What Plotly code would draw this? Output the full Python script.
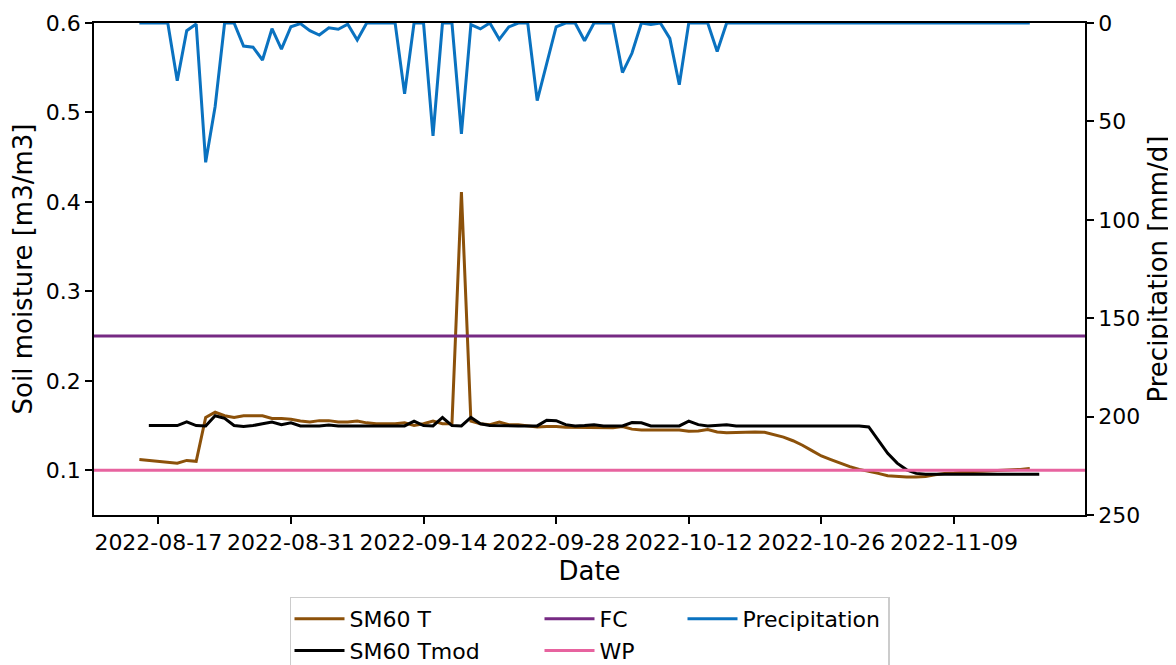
import plotly.graph_objects as go
import pandas as pd

# ---------------- data ----------------
start_t = "2022-08-15"      # first day of SM60 T and Precipitation
start_tmod = "2022-08-16"   # first day of SM60 Tmod

sm60_t = [0.112, 0.111, 0.110, 0.109, 0.108, 0.111, 0.110, 0.159, 0.165, 0.161,
          0.159, 0.161, 0.161, 0.161, 0.158, 0.158, 0.157, 0.155, 0.154, 0.1555,
          0.1555, 0.154, 0.154, 0.155, 0.153, 0.152, 0.152, 0.152, 0.153, 0.150,
          0.152, 0.155, 0.152, 0.152, 0.411, 0.155, 0.152, 0.151, 0.154, 0.151,
          0.151, 0.150, 0.1484, 0.149, 0.149, 0.148, 0.148, 0.1475, 0.1475, 0.1475,
          0.1475, 0.149, 0.146, 0.145, 0.145, 0.145, 0.1448, 0.145, 0.1435, 0.144,
          0.1455, 0.1428, 0.142, 0.1425, 0.1428, 0.1428, 0.1425, 0.140, 0.137, 0.133,
          0.128, 0.122, 0.116, 0.112, 0.108, 0.104, 0.101, 0.099, 0.0965, 0.094,
          0.093, 0.0925, 0.0925, 0.093, 0.095, 0.0965, 0.097, 0.098, 0.0985, 0.099,
          0.0995, 0.100, 0.100, 0.101, 0.102]

sm60_tmod = [0.150, 0.150, 0.150, 0.150, 0.154, 0.150, 0.1495, 0.161, 0.158, 0.150,
             0.149, 0.150, 0.152, 0.154, 0.151, 0.153, 0.1496, 0.1496, 0.1496, 0.1505,
             0.1496, 0.1496, 0.1496, 0.1496, 0.1496, 0.1496, 0.1496, 0.1496, 0.155, 0.150,
             0.1496, 0.159, 0.150, 0.1496, 0.159, 0.152, 0.150, 0.1496, 0.1496, 0.1496,
             0.1496, 0.1496, 0.156, 0.1555, 0.151, 0.1496, 0.150, 0.151, 0.1496, 0.1496,
             0.1496, 0.1533, 0.153, 0.1496, 0.1496, 0.1496, 0.1496, 0.155, 0.151, 0.1496,
             0.150, 0.151, 0.1496, 0.1496, 0.1496, 0.1496, 0.1496, 0.1496, 0.1496, 0.1496,
             0.1496, 0.1496, 0.1496, 0.1496, 0.1496, 0.1496, 0.1484, 0.1336, 0.119, 0.108,
             0.1005, 0.0965, 0.0955, 0.0955, 0.0955, 0.0955, 0.0955, 0.0955, 0.0955, 0.0955,
             0.0955, 0.0955, 0.0955, 0.0955, 0.0955]

precipitation = [0, 0, 0, 0, 29.3, 3.9, 0.5, 70.8, 42.4, 0,
                 0, 11.7, 12.3, 18.8, 2.9, 13.3, 1.9, 0.3, 3.9, 6.1,
                 2.4, 3.2, 0.6, 8.6, 0, 0, 0, 0, 36.0, 0,
                 0, 57.3, 0, 0, 56.3, 0.8, 3.0, 0, 8.3, 2.0,
                 0, 0, 39.4, 20.0, 1.9, 0, 0, 9.0, 0, 0,
                 0, 25.2, 15.4, 0, 0.8, 0, 7.8, 31.4, 0, 0,
                 0, 14.5, 0, 0, 0, 0, 0, 0, 0, 0,
                 0, 0, 0, 0, 0, 0, 0, 0, 0, 0,
                 0, 0, 0, 0, 0, 0, 0, 0, 0, 0,
                 0, 0, 0, 0, 0]

fc_value = 0.25
wp_value = 0.10

x_tick_labels = ["2022-08-17", "2022-08-31", "2022-09-14", "2022-09-28",
                 "2022-10-12", "2022-10-26", "2022-11-09"]
y_left_ticks = [0.1, 0.2, 0.3, 0.4, 0.5, 0.6]
y_right_ticks = [0, 50, 100, 150, 200, 250]

# ---------------- styles ----------------
C_T = "#8c510a"
C_TMOD = "#000000"
C_FC = "#762a83"
C_WP = "#e7639f"
C_P = "#0a72c0"
LW = 3
FONT = "DejaVu Sans"
FS = 22
ITEMW = 50
TEXTGAP = ITEMW + 10

x_range = ["2022-08-10 05:05", "2022-11-22 19:55"]

dates_t = pd.date_range(start_t, periods=len(sm60_t), freq="D")
dates_tmod = pd.date_range(start_tmod, periods=len(sm60_tmod), freq="D")
dates_p = pd.date_range(start_t, periods=len(precipitation), freq="D")

w_g1 = 185
w_g2 = 78
w_g3 = 140

fig = go.Figure()
fig.add_trace(go.Scatter(x=dates_t, y=sm60_t, mode="lines", name="SM60 T",
                         line=dict(color=C_T, width=LW), legendgroup="g1",
                         legendwidth=w_g1))
fig.add_trace(go.Scatter(x=dates_tmod, y=sm60_tmod, mode="lines", name="SM60 Tmod",
                         line=dict(color=C_TMOD, width=LW), legendgroup="g1",
                         legendwidth=w_g1))
fig.add_trace(go.Scatter(x=x_range, y=[fc_value, fc_value], mode="lines", name="FC",
                         line=dict(color=C_FC, width=LW), legendgroup="g2",
                         legendwidth=w_g2))
fig.add_trace(go.Scatter(x=x_range, y=[wp_value, wp_value], mode="lines", name="WP",
                         line=dict(color=C_WP, width=LW), legendgroup="g2",
                         legendwidth=w_g2))
fig.add_trace(go.Scatter(x=dates_p, y=precipitation, mode="lines", name="Precipitation",
                         line=dict(color=C_P, width=LW), legendgroup="g3", yaxis="y2",
                         legendwidth=w_g3))

axis_common = dict(showline=True, linecolor="black", linewidth=1.7, ticks="outside",
                   ticklen=7, tickwidth=1.7, tickcolor="black", showgrid=False,
                   zeroline=False, automargin=False,
                   tickfont=dict(family=FONT, size=FS, color="black"))

# the page body adds an 8 px offset, so the figure is 8 px smaller than the window
fig.update_layout(
    width=1168, height=657,
    margin=dict(l=86, r=91, t=15, b=150, autoexpand=False),
    paper_bgcolor="white", plot_bgcolor="white",
    font=dict(family=FONT, size=FS, color="black"),
    xaxis=dict(range=x_range, tickvals=x_tick_labels, ticktext=x_tick_labels,
               mirror=True, title=dict(text="Date", standoff=8), **axis_common),
    yaxis=dict(range=[0.05, 0.6], tickvals=y_left_ticks,
               ticktext=[f"{v:.1f}" for v in y_left_ticks],
               title=dict(text="Soil moisture [m3/m3]", standoff=7), **axis_common),
    yaxis2=dict(range=[250, 0], overlaying="y", side="right", tickvals=y_right_ticks,
                title=dict(text="Precipitation [mm/d]", standoff=10), **axis_common),
    legend=dict(orientation="h", traceorder="grouped", x=0.5, xanchor="center",
                y=-0.1657, yanchor="top", bgcolor="rgba(255,255,255,0.8)",
                bordercolor="#cccccc", borderwidth=1.5, itemwidth=ITEMW,
                font=dict(family=FONT, size=FS, color="black")),
    showlegend=True,
)

fig.write_html("out.html")
